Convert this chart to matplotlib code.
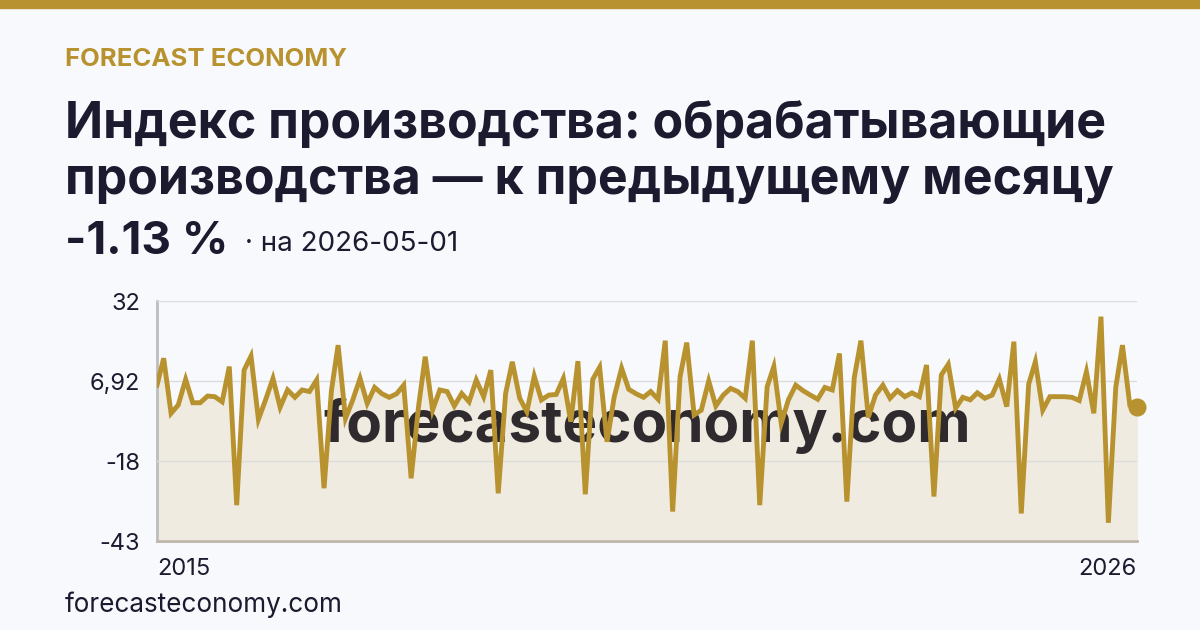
import matplotlib
matplotlib.use("Agg")
import matplotlib.pyplot as plt
import numpy as np
import pandas as pd

plt.rcParams['font.family'] = ['Inter', 'DejaVu Sans']

# monthly m/m change, %, Feb 2015 .. May 2026
values = [5.7, 14.1, -3.1, -0.5, 7.5, 0.2, 0.2, 2.3, 2.1, 0.5, 11.5, -31.8,
          10.4, 14.8, -5.0, 1.1, 7.8, -1.2, 4.2, 1.9, 4.2, 3.7, 7.3, -26.5,
          4.0, 18.2, -4.7, 1.0, 7.8, 0.0, 5.0, 3.0, 1.9, 3.0, 5.7, -23.4,
          -1.0, 14.6, -2.1, 4.2, 3.7, -0.8, 3.1, 0.5, 7.3, 2.1, 10.4, -28.1,
          3.1, 13.0, 1.6, -2.6, 8.5, 1.1, 2.6, 2.8, 7.8, -5.7, 13.2, -28.4,
          7.5, 11.3, -12.0, 2.0, 11.0, 4.4, 3.0, 1.9, 3.7, 1.3, 19.6, -33.8,
          8.3, 19.0, -3.6, -2.1, 7.0, -0.8, 2.6, 4.7, 3.7, 1.6, 19.6, -31.8,
          5.2, 11.5, -6.2, 1.1, 5.7, 4.0, 2.6, 1.3, 5.0, 4.2, 15.6, -30.7,
          8.0, 19.6, -4.4, 2.6, 5.7, 1.6, 4.0, 2.1, 3.3, 2.1, 12.0, -29.1,
          8.9, 12.2, -1.5, 1.9, 1.1, 3.3, 1.6, 2.6, 7.6, -1.0, 19.3, -34.4,
          6.0, 13.0, -2.1, 2.1, 2.1, 2.1, 1.9, 0.9, 9.9, -3.1, 27.1, -37.3,
          5.0, 18.2, -0.6, -1.13]
dates = pd.date_range('2015-02-01', periods=len(values), freq='MS')
yticks = [32, 6.92, -18, -43]
ytick_labels = ['32', '6,92', '-18', '-43']
xtick_labels = ['2015', '2026']

gold = '#B8922E'
bg = '#F7F9FC'
ink = '#1B1A2E'

fig = plt.figure(figsize=(12, 6.3), dpi=100, facecolor=bg)

# top bar
fig.patches.append(plt.Rectangle((0, 1 - 8 / 630), 1, 8 / 630, transform=fig.transFigure,
                                 color=gold, zorder=0))

fig.text(65 / 1200, 1 - 60 / 630, 'FORECAST ECONOMY', color=gold, fontsize=18.5,
         fontweight='bold', va='center', ha='left')
fig.text(65 / 1200, 1 - 124 / 630, 'Индекс производства: обрабатывающие', color=ink,
         fontsize=36, fontweight='bold', va='center', ha='left')
fig.text(65 / 1200, 1 - 180 / 630, 'производства — к предыдущему месяцу', color=ink,
         fontsize=36, fontweight='bold', va='center', ha='left')
fig.text(65 / 1200, 1 - 242 / 630, '-1.13 %', color=ink, fontsize=33,
         fontweight='bold', va='center', ha='left')
fig.text(245 / 1200, 1 - 244 / 630, '· на 2026-05-01', color=ink, fontsize=20,
         va='center', ha='left')
fig.text(65 / 1200, 1 - 605 / 630, 'forecasteconomy.com', color=ink, fontsize=18.8,
         va='center', ha='left')

ax = fig.add_axes([157 / 1200, 1 - 541 / 630, 980 / 1200, 240 / 630])
ax.set_facecolor(bg)
ax.fill_between(dates, values, -43, color='#EFEBE0', zorder=1)
ax.plot(dates, values, color=gold, lw=3.5, zorder=4, solid_joinstyle='miter')
ax.plot(dates[-1], values[-1], 'o', color=gold, ms=12, zorder=5, clip_on=False)

ax.text(0.5, 0.48, 'forecasteconomy.com', transform=ax.transAxes, fontsize=42,
        fontweight='bold', color='#2E2A2E', ha='center', va='center', zorder=3)

ax.set_ylim(-43, 32)
ax.set_xlim(dates[0], dates[-1])
ax.set_yticks(yticks)
ax.set_yticklabels(ytick_labels, fontsize=17, color=ink)
ax.grid(axis='y', color='#DCDCDC', lw=1, zorder=2)
ax.set_axisbelow(False)
ax.set_xticks([dates[0], dates[-1]])
ax.set_xticklabels(xtick_labels, fontsize=17, color=ink)
ax.get_xticklabels()[0].set_ha('left')
ax.get_xticklabels()[1].set_ha('right')
ax.tick_params(length=0, pad=12)
for s in ['top', 'right']:
    ax.spines[s].set_visible(False)
ax.spines['left'].set_color('#BDBDBD')
ax.spines['left'].set_linewidth(2)
ax.spines['bottom'].set_color('#BDB6A8')
ax.spines['bottom'].set_linewidth(2)

plt.savefig('out.png', dpi=100, facecolor=bg)
plt.close()
